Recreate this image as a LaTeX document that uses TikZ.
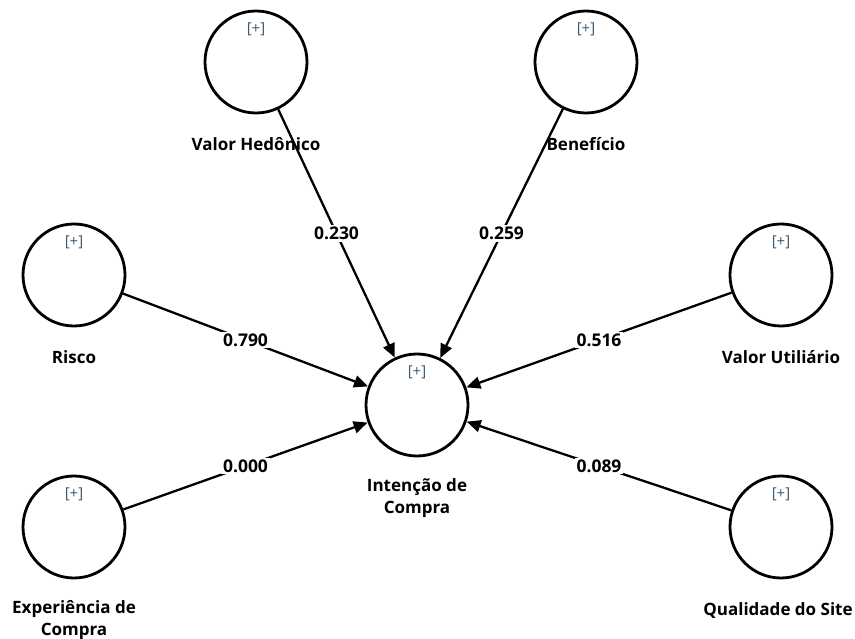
\documentclass[tikz,border=0pt]{standalone}
\usepackage{fontspec}
\setmainfont{Open Sans}
\usetikzlibrary{arrows.meta,positioning}
\definecolor{plusgray}{RGB}{60,90,115}
\begin{document}
\begin{tikzpicture}[x=1pt,y=-1pt,construct/.style={shape=circle,draw=black,line width=2.8pt,minimum size=102pt,inner sep=0pt},rel/.style={-{Triangle[length=14pt,width=12pt]},line width=2.3pt},coef/.style={fill=white,inner sep=2pt,font=\fontsize{17.5}{20}\selectfont\bfseries},cname/.style={font=\fontsize{17}{22}\selectfont\bfseries,align=center,anchor=north,inner sep=0pt,execute at begin node=\strut},plusmark/.style={font=\fontsize{15}{17}\selectfont,text=plusgray,inner sep=0pt}]
\def\dn{20.5pt};
\useasboundingbox (0,0) rectangle (855,639);

\node[construct] (VH) at (256,62) {};
\node[construct] (BE) at (586,62) {};
\node[construct] (RI) at (74,275) {};
\node[construct] (VU) at (781,275) {};
\node[construct] (IC) at (417,405) {};
\node[construct] (EX) at (74,527) {};
\node[construct] (QS) at (781,527) {};

\foreach \c in {VH,BE,RI,VU,IC,EX,QS}
  \node[plusmark] (p\c) at ([yshift=33pt]\c.center) {[+]};

\draw[rel] (VH) -- node[coef] (cVH) {0.230} (IC);
\draw[rel] (BE) -- node[coef] (cBE) {0.259} (IC);
\draw[rel] (RI) -- node[coef] (cRI) {0.790} (IC);
\draw[rel] (VU) -- node[coef] (cVU) {0.516} (IC);
\draw[rel] (EX) -- node[coef] (cEX) {0.000} (IC);
\draw[rel] (QS) -- node[coef] (cQS) {0.089} (IC);

\node[cname,below=\dn of VH] (nVH) {Valor Hedônico};
\node[cname,below=\dn of BE] (nBE) {Benefício};
\node[cname,below=\dn of RI] (nRI) {Risco};
\node[cname,below=\dn of VU] (nVU) {Valor Utiliário};
\node[cname,below=\dn of IC] (nIC) {Intenção de\\Compra};
\node[cname,below=\dn of EX] (nEX) {Experiência de\\Compra};
\node[cname,below=\dn of QS,xshift=-3pt] (nQS) {Qualidade do Site};
\end{tikzpicture}
\end{document}
